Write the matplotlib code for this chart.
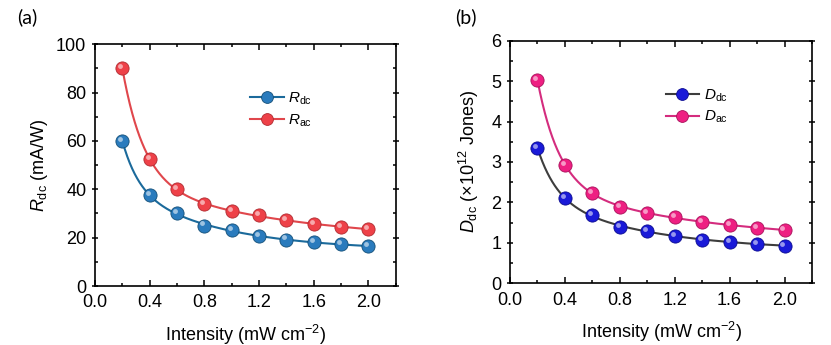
import numpy as np
import matplotlib
matplotlib.use('Agg')
import matplotlib.pyplot as plt
from matplotlib.transforms import ScaledTranslation

plt.rcParams['font.family'] = ['Liberation Sans', 'DejaVu Sans']
plt.rcParams['mathtext.fontset'] = 'custom'
plt.rcParams['mathtext.rm'] = 'Liberation Sans'
plt.rcParams['mathtext.it'] = 'Liberation Sans:italic'

intensity = [0.2, 0.4, 0.6, 0.8, 1.0, 1.2, 1.4, 1.6, 1.8, 2.0]
r_dc = [60.0, 37.5, 30.0, 25.0, 23.0, 20.8, 19.2, 18.0, 17.2, 16.5]
r_ac = [90.0, 52.5, 40.0, 33.8, 31.0, 29.2, 27.2, 25.6, 24.5, 23.5]
d_dc = [3.35, 2.10, 1.68, 1.40, 1.29, 1.17, 1.08, 1.02, 0.97, 0.93]
d_ac = [5.03, 2.93, 2.24, 1.89, 1.74, 1.63, 1.52, 1.44, 1.37, 1.32]


def fit_curve(x, y, xs):
    # double exponential decay, time constants by grid search
    x = np.asarray(x); y = np.asarray(y)
    best = None
    for t1 in np.linspace(0.05, 0.5, 46):
        for t2 in np.linspace(0.5, 5.0, 46):
            M = np.column_stack([np.ones_like(x), np.exp(-x / t1), np.exp(-x / t2)])
            c, *_ = np.linalg.lstsq(M, y, rcond=None)
            err = np.sum((M @ c - y) ** 2)
            if best is None or err < best[0]:
                best = (err, t1, t2, c)
    _, t1, t2, c = best
    return c[0] + c[1] * np.exp(-xs / t1) + c[2] * np.exp(-xs / t2)


def draw(ax, y, line_c, mark_c, edge_c, label):
    xs = np.linspace(0.2, 2.0, 300)
    ax.plot(xs, fit_curve(intensity, y, xs), color=line_c, lw=1.5, zorder=2)
    ax.plot(intensity, y, 'o', ms=9.5, mfc=mark_c, mec=edge_c, mew=0.6, zorder=3)
    # highlight to mimic shaded spheres
    shift = ax.transData + ScaledTranslation(-1.5 / 72, 1.5 / 72, ax.figure.dpi_scale_trans)
    ax.plot(intensity, y, 'o', ms=3.5, mfc='white', mec='none', alpha=0.55, zorder=4, transform=shift)
    ax.plot([], [], '-o', color=line_c, ms=8.5, mfc=mark_c, mec=edge_c, mew=0.6, lw=1.5, label=label)


def style(ax, ymax, ystep):
    ax.set_xlim(0, 2.2)
    ax.set_ylim(0, ymax)
    ax.set_xticks(np.arange(0, 2.01, 0.4))
    ax.set_xticks(np.arange(0, 2.21, 0.2), minor=True)
    ax.set_yticks(np.arange(0, ymax + 0.001, ystep))
    ax.set_yticks(np.arange(0, ymax + 0.001, ystep / 2), minor=True)
    ax.set_xticklabels([f"{v:.1f}" for v in np.arange(0, 2.01, 0.4)])
    ax.tick_params(which='both', direction='in', top=True, right=True, labelsize=13, width=1.1)
    ax.tick_params(axis='y', which='major', direction='inout')
    ax.tick_params(which='major', length=4.5)
    ax.tick_params(which='minor', length=2.5)
    ax.tick_params(axis='x', pad=6)
    ax.tick_params(axis='y', pad=4)
    for s in ax.spines.values():
        s.set_linewidth(1.2)
    ax.set_xlabel('Intensity (mW cm$^{-2}$)', fontsize=13, labelpad=8)
    ax.legend(loc='upper left', bbox_to_anchor=(0.47, 0.865), frameon=False, fontsize=11,
              handlelength=2.2, handletextpad=0.3, labelspacing=0.35)


fig = plt.figure(figsize=(8.31, 3.45), dpi=100)
ax1 = fig.add_axes([0.1143, 0.171, 0.362, 0.701])
ax2 = fig.add_axes([0.6137, 0.179, 0.3634, 0.703])

draw(ax1, r_dc, '#1b6a9b', '#2a7bbd', '#134f78', r'$R_{\rm dc}$')
draw(ax1, r_ac, '#e0474c', '#ee4148', '#b02a30', r'$R_{\rm ac}$')
style(ax1, 100, 20)
ax1.set_ylabel(r'$R_{\rm dc}$ (mA/W)', fontsize=13, labelpad=4)

draw(ax2, d_dc, '#3d3d3d', '#1a1ad8', '#0b0b90', r'$D_{\rm dc}$')
draw(ax2, d_ac, '#d42c7e', '#ee1f82', '#a8105a', r'$D_{\rm ac}$')
style(ax2, 6, 1)
ax2.set_ylabel(r'$D_{\rm dc}$ ($\times$10$^{12}$ Jones)', fontsize=13, labelpad=7)

fig.text(0.021, 0.95, '(a)', fontsize=14, family=['Lato', 'DejaVu Sans'], va='center')
fig.text(0.548, 0.95, '(b)', fontsize=14, family=['Lato', 'DejaVu Sans'], va='center')

fig.savefig('out.png', dpi=100)
